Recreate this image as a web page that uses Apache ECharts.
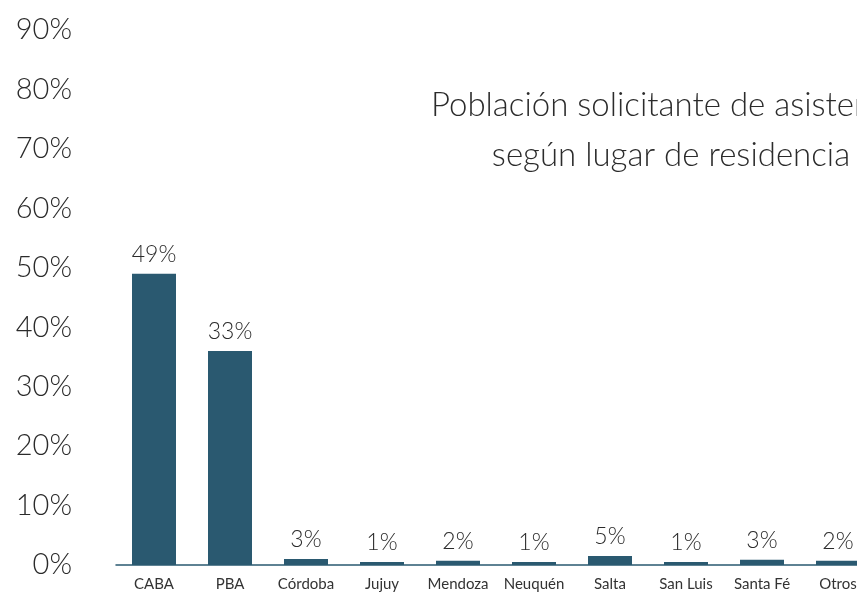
<!DOCTYPE html>
<html>
<head>
<meta charset="utf-8">
<script src="https://cdn.jsdelivr.net/npm/echarts@6/dist/echarts.min.js"></script>
<style>html,body{margin:0;padding:0;background:#fff}#c{width:857px;height:595px}</style>
</head>
<body>
<div id="c"></div>
<script>
var categories = ['CABA', 'PBA', 'Córdoba', 'Jujuy', 'Mendoza', 'Neuquén', 'Salta', 'San Luis', 'Santa Fé', 'Otros'];
var barValues = [49, 36, 1, 0.5, 0.7, 0.5, 1.5, 0.5, 0.9, 0.7];
var barLabels = ['49%', '33%', '3%', '1%', '2%', '1%', '5%', '1%', '3%', '2%'];
var yTicks = [0, 10, 20, 30, 40, 50, 60, 70, 80, 90];
var titleText = 'Población solicitante de asistencia\nsegún lugar de residencia';

var FONT = 'Lato';
var chart = echarts.init(document.getElementById('c'));
chart.setOption({
  backgroundColor: '#fff',
  animation: false,
  title: {
    text: titleText,
    left: 666,
    top: 75,
    textAlign: 'center',
    textStyle: { fontFamily: FONT, fontSize: 33, fontWeight: 300, color: '#2b2b2b', lineHeight: 50, align: 'center' }
  },
  grid: { left: 116, width: 760, top: 30, bottom: 30, containLabel: false, outerBoundsMode: 'none' },
  xAxis: {
    type: 'category',
    data: categories,
    axisLine: { lineStyle: { color: '#2a5970', width: 1.5 } },
    axisTick: { show: false },
    axisLabel: { interval: 0, margin: 12, fontFamily: FONT, fontSize: 15, color: '#333' }
  },
  yAxis: {
    type: 'value',
    min: yTicks[0],
    max: yTicks[yTicks.length - 1],
    interval: 10,
    axisLine: { show: false },
    axisTick: { show: false },
    splitLine: { show: false },
    axisLabel: { margin: 44, fontFamily: FONT, fontSize: 29, fontWeight: 300, color: '#2b2b2b', formatter: '{value}%' }
  },
  series: [{
    type: 'bar',
    data: barValues,
    barWidth: 44,
    itemStyle: { color: '#2a5970' },
    label: {
      show: true,
      position: 'top',
      distance: 8,
      fontFamily: FONT,
      fontSize: 23,
      fontWeight: 300,
      color: '#2b2b2b',
      formatter: function (p) { return barLabels[p.dataIndex]; }
    }
  }]
});
</script>
</body>
</html>
